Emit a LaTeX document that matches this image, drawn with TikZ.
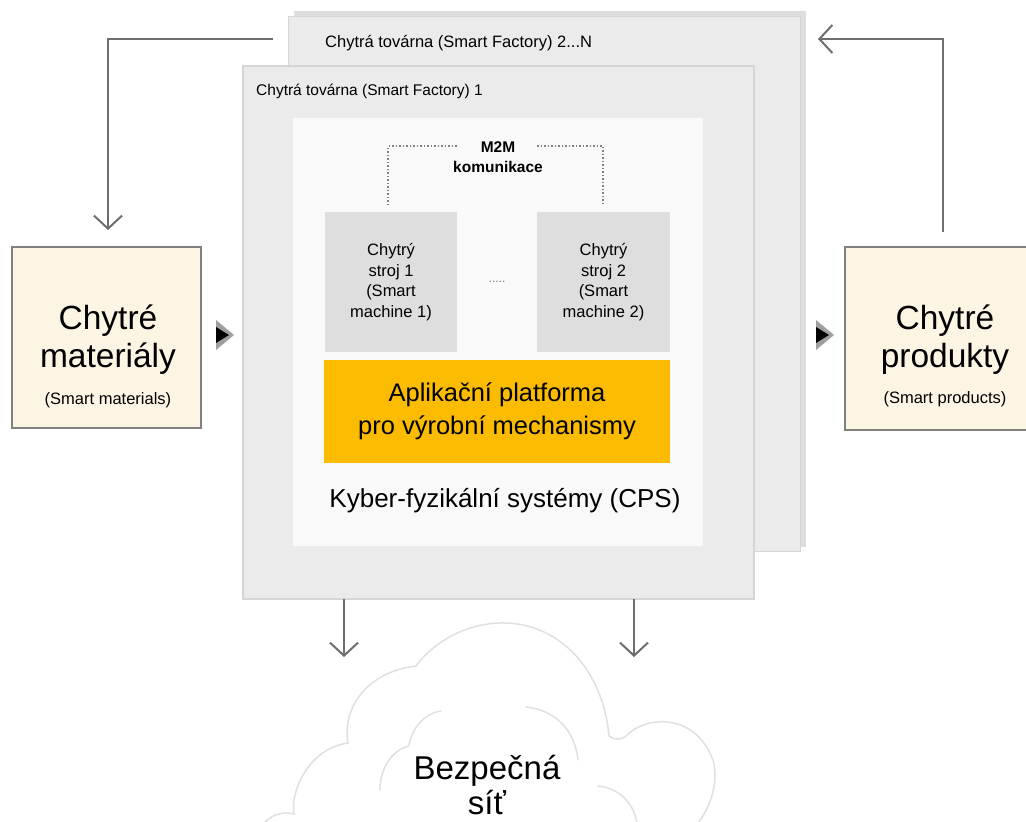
\documentclass[tikz,border=0pt]{standalone}
\usepackage{fontspec}
\setmainfont{Liberation Sans}
\usetikzlibrary{arrows.meta}

\definecolor{panel}{RGB}{235,235,235}
\definecolor{panelline}{RGB}{214,214,214}
\definecolor{shadowgray}{RGB}{222,222,222}
\definecolor{innerbg}{RGB}{249,249,249}
\definecolor{machinebg}{RGB}{222,222,222}
\definecolor{platform}{RGB}{250,187,0}
\definecolor{cream}{RGB}{253,245,228}
\definecolor{boxline}{RGB}{128,128,128}
\definecolor{flow}{RGB}{110,110,110}
\definecolor{cloudline}{RGB}{224,224,224}
\definecolor{markgray}{RGB}{160,160,160}

\tikzset{
  box/.style={rectangle, inner sep=0pt, outer sep=0pt, anchor=north west},
  smalltext/.style={font=\fontsize{15.5}{18}\selectfont, inner sep=0pt},
  machine/.style={box, fill=machinebg, align=center,
    font=\fontsize{16.5}{20.5}\selectfont},
  stuffbox/.style={box, fill=cream, draw=boxline, line width=2.5pt},
  bigtext/.style={font=\fontsize{33.5}{36}\selectfont, anchor=base, inner sep=0pt},
  notetext/.style={font=\fontsize{16.5}{18}\selectfont, anchor=base, inner sep=0pt},
  flowarrow/.style={draw=flow, line width=2pt,
    -{Straight Barb[length=13pt,width=28pt]}},
  m2mline/.style={draw=boxline, line width=1.5pt, dotted},
  cloudstroke/.style={draw=cloudline, line width=1.5pt, line cap=round},
}

\begin{document}
\begin{tikzpicture}[x=1pt, y=-1pt]
\clip (0,0) rectangle (1026,822);
\fill[white] (0,0) rectangle (1026,822);

% factory 2...N (behind)
\node[box, fill=shadowgray, minimum width=512pt, minimum height=536pt] (backshadow) at (294,11) {};
\node[box, fill=panel, draw=panelline, line width=1pt,
      minimum width=512pt, minimum height=535pt] (back) at (288,16) {};
\node[smalltext, font=\fontsize{16.5}{18}\selectfont, anchor=west] (backlabel) at (325,43)
  {Chytrá továrna (Smart Factory) 2...N};

% factory 1 (front)
\node[box, fill=panel, draw=panelline, line width=1.5pt,
      minimum width=511pt, minimum height=533pt] (front) at (243,66) {};
\node[smalltext, anchor=west] (frontlabel) at (256,91) {Chytrá továrna (Smart Factory) 1};

% cyber-physical systems panel
\node[box, fill=innerbg, minimum width=410pt, minimum height=428pt] (cps) at (293,118) {};

% machines
\node[machine, minimum width=132pt, minimum height=140pt] (m1) at (325,212)
  {Chytrý\\stroj 1\\(Smart\\machine 1)};
\node[machine, minimum width=133pt, minimum height=140pt] (m2) at (537,212)
  {Chytrý\\stroj 2\\(Smart\\machine 2)};
\node[font=\fontsize{12}{12}\selectfont, text=flow, inner sep=0pt] (gap) at (497,282) {.....};

% M2M communication
\node[font=\bfseries\fontsize{15.5}{20}\selectfont, align=center, inner sep=0pt] (m2m) at (498,157)
  {M2M\\komunikace};
\coordinate (d1) at (388,205);
\coordinate (d2) at (457,146);
\coordinate (d3) at (537,146);
\coordinate (d4) at (603,205);
\draw[m2mline] (d1) |- (d2);
\draw[m2mline] (d3) -| (d4);

% application platform
\node[box, fill=platform, align=center, font=\fontsize{25.5}{33.5}\selectfont,
      minimum width=346pt, minimum height=103pt] (plat) at (324,360)
  {Aplikační platforma\\pro výrobní mechanismy};
\node[font=\fontsize{26}{28}\selectfont, inner sep=0pt] (cpslabel) at (505,501)
  {Kyber-fyzikální systémy (CPS)};

% smart materials / smart products
\node[stuffbox, minimum width=189pt, minimum height=181pt] (mat) at (12,247) {};
\node[bigtext] (mat1) at (108,329) {Chytré};
\node[bigtext] (mat2) at (108,367) {materiály};
\node[notetext] (mat3) at (108,404) {(Smart materials)};

\node[stuffbox, minimum width=220pt, minimum height=183pt] (prod) at (845,247) {};
\node[bigtext] (prod1) at (945,329) {Chytré};
\node[bigtext] (prod2) at (945,367) {produkty};
\node[notetext] (prod3) at (945,403) {(Smart products)};

% input / output markers
\fill[markgray] (216,320) -- (234,335) -- (216,350) -- cycle;
\fill[black] (216,327) -- (229,335) -- (216,343) -- cycle;
\fill[markgray] (816,320) -- (834,335) -- (816,350) -- cycle;
\fill[black] (816,327) -- (829,335) -- (816,343) -- cycle;

% material and product flows
\coordinate (l0) at (273,39);
\coordinate (l1) at (108,230);
\draw[flowarrow] (l0) -| (l1);
\coordinate (r0) at (943,232);
\coordinate (r1) at (818,39);
\draw[flowarrow] (r0) |- (r1);

% links to the secure network
\coordinate (a1) at (344,657);
\coordinate (a2) at (634,657);
\draw[flowarrow] (a1 |- front.south) -- (a1);
\draw[flowarrow] (a2 |- front.south) -- (a2);

% secure network cloud
\draw[cloudstroke] (255,840) .. controls (262,818) and (278,810) .. (294,814)
  .. controls (290,790) and (310,748) .. (348,743)
  .. controls (342,710) and (365,672) .. (416,666)
  .. controls (435,640) and (470,622) .. (505,623)
  .. controls (560,624) and (603,670) .. (609,736)
  .. controls (614,740) and (620,740) .. (625,737)
  .. controls (645,715) and (695,712) .. (713,760)
  .. controls (720,785) and (708,815) .. (690,832);
\draw[cloudstroke] (441,711) .. controls (425,713) and (412,728) .. (409,745);
\draw[cloudstroke] (409,746) .. controls (392,750) and (380,768) .. (380,790);
\draw[cloudstroke] (526,707) .. controls (555,710) and (575,730) .. (578,760);
\draw[cloudstroke] (598,786) .. controls (620,788) and (635,805) .. (637,824);
\node[bigtext, font=\fontsize{33}{36}\selectfont] (net1) at (487,779) {Bezpečná};
\node[bigtext, font=\fontsize{33}{36}\selectfont] (net2) at (487,814) {síť};
\end{tikzpicture}
\end{document}
